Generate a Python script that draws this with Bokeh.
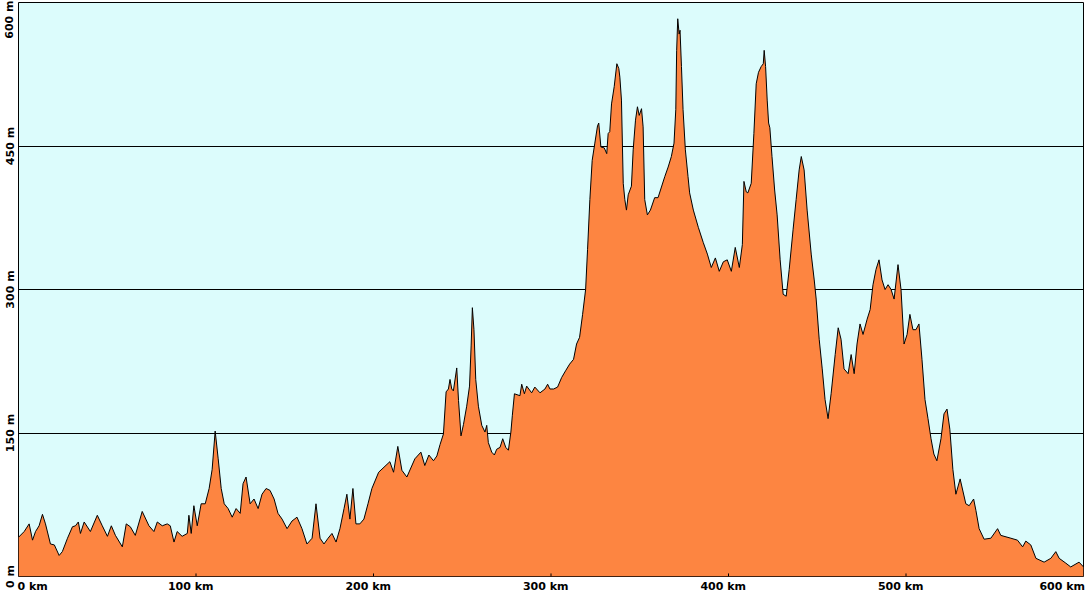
from bokeh.plotting import figure
from bokeh.models import FixedTicker, Range1d
from bokeh.embed import file_html
from bokeh.resources import INLINE

# Elevation profile (distance in km, elevation in m)
distance_km = [
    0, 3.2, 6.0, 7.9, 9.6, 11.6, 13.5, 15.2, 18.0, 20.2, 22.9, 24.7, 27.6, 30.4, 32.1, 33.7,
    34.9, 37.0, 40.5, 44.4, 47.2, 50.1, 52.3, 54.6, 58.5, 60.7, 63.0, 65.8, 69.7, 73.5, 76.3,
    78.2, 81.0, 83.8, 85.5, 87.6, 89.4, 92.2, 95.1, 96.0, 97.3, 98.8, 100.7, 102.9,
    105.2, 107.4, 109.1, 110.8, 112.5, 114.2, 115.9, 118.1, 120.4, 122.6, 124.9, 126.5, 128.2,
    130.5, 132.7, 135.0, 137.2, 139.5, 141.7, 144.0, 146.2, 148.5, 151.3, 154.1, 156.9, 159.7,
    162.5, 165.4, 167.6, 169.9, 172.1, 174.4, 176.6, 178.9, 181.1, 183.4, 185.0, 186.7, 188.4,
    190.1, 192.3, 194.6, 196.9, 199.1,
    202.9, 209.2, 211.3, 213.7, 216.0, 218.8, 223.3, 226.7, 228.9, 231.2, 233.8, 235.7, 237.5,
    239.4, 240.9, 242.2, 243.1, 244.1, 245.0, 246.9, 247.9, 249.3, 250.7, 252.5, 254.1, 255.0,
    255.7, 256.6, 257.6, 259.1, 261.0, 262.8, 263.8, 264.7, 266.6, 268.1, 269.4, 271.3, 272.8,
    274.5, 276.0, 277.4, 278.2, 279.4, 282.5, 283.5, 285.0, 286.3, 289.1, 290.9, 293.8, 296.6,
    298.1, 299.4,
    301.5, 303.7, 306.0, 308.2, 310.5, 312.7, 314.4, 316.1, 317.8, 319.5, 320.6, 321.9, 323.2,
    324.7, 326.2, 326.9, 328.1, 330.0, 331.4, 332.2, 333.1, 334.1, 335.6, 337.1, 338.2, 338.8,
    339.7, 340.7, 341.6, 342.5, 343.5, 345.3, 346.3, 347.6, 348.7, 349.7, 351.0, 351.9, 352.8,
    354.3, 356.0, 358.4, 360.3, 364.1, 366.0, 367.8, 369.3, 370.3, 370.8, 371.4, 372.2, 372.7,
    373.5, 374.4, 375.7, 377.2, 378.1, 380.2, 383.0, 385.8, 388.1, 390.3, 392.6, 394.8, 397.1,
    399.3, 401.6, 403.8, 406.1, 407.8, 408.7, 410.0, 410.9, 412.8, 414.3, 415.6, 416.9, 418.4,
    419.6, 420.1, 420.9, 421.8, 422.6, 423.3, 424.5, 426.0, 427.4, 429.1, 430.8, 432.5, 434.2,
    436.4, 438.1, 439.8, 441.0, 442.6, 444.3, 446.6, 448.3, 449.4, 451.1, 452.8, 454.4, 456.1,
    457.8, 460.1, 461.8, 463.4, 465.1, 467.4, 469.1, 470.8, 472.4, 474.1, 475.8, 478.1, 479.8,
    481.4, 483.1, 484.8, 486.5, 488.2, 489.9, 491.6, 493.3, 495.5, 497.2, 498.9, 500.6, 502.2,
    503.9, 505.6, 507.3, 509.0, 510.7, 512.4, 514.1, 515.7, 517.4, 519.7, 521.4, 523.1, 524.7,
    526.4, 528.1, 530.5, 533.7, 535.6, 538.1, 539.4, 541.2, 544.0, 547.8, 551.6, 553.4, 559.1,
    562.8, 565.7, 567.5, 570.3, 573.2, 577.8, 581.6, 584.4, 586.3, 590.0, 592.8, 597.5, 600.0,
]
elevation_m = [
    41, 47, 55, 38, 47, 53, 65, 55, 34, 33, 22, 26, 40, 52, 53, 57,
    45, 57, 47, 64, 53, 42, 53, 43, 31, 55, 52, 43, 68, 53, 47,
    57, 53, 55, 53, 36, 47, 42, 45, 64, 45, 74, 53, 76,
    76, 92, 112, 152, 123, 92, 76, 71, 62, 71, 66, 97, 104,
    76, 81, 71, 86, 92, 90, 81, 66, 60, 50, 58, 62, 50,
    34, 40, 76, 40, 34, 40, 45, 36, 50, 71, 86, 60, 92,
    55, 55, 60, 76, 92,
    109, 120, 109, 136, 111, 104, 123, 130, 116, 127, 121, 126, 138,
    149, 193, 196, 206, 196, 194, 218, 184, 147, 159, 178, 199, 241,
    281, 258, 206, 178, 158, 151, 158, 140, 130, 127, 133, 135, 144,
    135, 132, 151, 168, 191, 189, 201, 191, 199, 192, 198, 192, 196,
    201, 196,
    196, 198, 208, 215, 222, 227, 243, 250, 274, 300, 342, 394, 435,
    453, 471, 474, 449, 448, 442, 463, 465, 494, 512, 536, 531, 522,
    498, 411, 394, 383, 399, 408, 446, 477, 491, 482, 489, 470, 394,
    378, 383, 396, 396, 418, 428, 439, 453, 488, 550, 583, 567, 571,
    533, 488, 446, 418, 401, 383, 365, 349, 337, 323, 333, 319, 329,
    331, 319, 344, 323, 347, 413, 402, 401, 411, 463, 515, 527, 533,
    536, 550, 533, 498, 474, 469, 439, 404, 378, 331, 295, 293, 321,
    363, 394, 425, 439, 425, 383, 337, 310, 290, 248, 217, 185, 165,
    191, 232, 260, 248, 217, 212, 232, 212, 243, 264, 253, 269, 279,
    305, 321, 331, 310, 300, 305, 300, 290, 326, 300, 243, 253, 274,
    258, 258, 264, 227, 185, 165, 144, 128, 121, 144, 170, 175, 154,
    112, 86, 102, 76, 74, 81, 69, 50, 39, 40, 50, 43, 40,
    38, 31, 37, 33, 19, 15, 19, 26, 19, 14, 10, 15, 10,
]

x_tick_values = [100, 200, 300, 400, 500]
x_tick_labels = ["0 km", "100 km", "200 km", "300 km", "400 km", "500 km", "600 km"]
x_label_anchor_km = [8, 97, 197, 297, 397, 497, 588]
y_grid_values = [150, 300, 450]
y_tick_labels = ["0 m", "150 m", "300 m", "450 m", "600 m"]
y_label_anchor_m = [0, 150, 300, 450, 583]

p = figure(width=1086, height=595, output_backend="svg", toolbar_location=None,
           x_range=Range1d(0, 600), y_range=Range1d(0, 600),
           min_border_left=16, min_border_right=3, min_border_top=2, min_border_bottom=17)

p.background_fill_color = "#dcfcfc"
p.border_fill_color = "white"
p.outline_line_color = "black"
p.outline_line_width = 1

p.varea(x=distance_km, y1=0, y2=elevation_m, fill_color="#fd8541", fill_alpha=1)
p.line(distance_km, elevation_m, line_color="black", line_width=1)
p.segment(x0=x_tick_values, y0=0, x1=x_tick_values, y1=3.2, line_color="black", line_width=1)

p.xgrid.grid_line_color = None
p.ygrid.ticker = FixedTicker(ticks=y_grid_values)
p.ygrid.grid_line_color = "black"
p.ygrid.grid_line_alpha = 1
p.ygrid.grid_line_width = 1

xa = p.xaxis[0]
xa.ticker = FixedTicker(ticks=x_label_anchor_km)
xa.major_label_overrides = {k: v for k, v in zip(x_label_anchor_km, x_tick_labels)}
ya = p.yaxis[0]
ya.ticker = FixedTicker(ticks=y_label_anchor_m)
ya.major_label_overrides = {k: v for k, v in zip(y_label_anchor_m, y_tick_labels)}
ya.major_label_orientation = "vertical"

for ax in (xa, ya):
    ax.axis_line_color = None
    ax.major_tick_line_color = None
    ax.minor_tick_line_color = None
    ax.major_tick_in = 0
    ax.major_tick_out = 0
    ax.major_label_text_font = "DejaVu Sans"
    ax.major_label_text_font_size = "11px"
    ax.major_label_text_font_style = "bold"
    ax.major_label_text_color = "black"
xa.major_label_standoff = 3
ya.major_label_standoff = 2

open("out.html", "w").write(file_html(p, INLINE))
